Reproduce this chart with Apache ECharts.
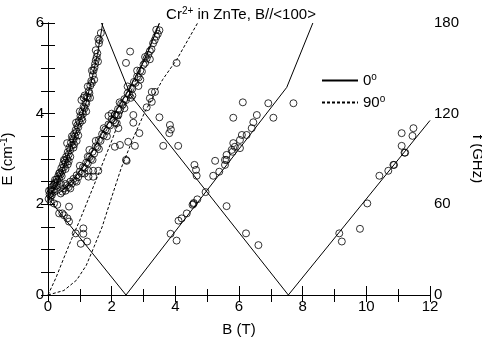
<!DOCTYPE html>
<html>
<head>
<meta charset="utf-8">
<script src="https://cdn.jsdelivr.net/npm/echarts@6/dist/echarts.min.js"></script>
<style>
  html, body { margin: 0; padding: 0; background: #fff; }
  #chart { width: 482px; height: 349px; }
</style>
</head>
<body>
<div id="chart"></div>
<script>
// measured points [B (T), E (cm-1)]
const band1Pts = [
  [0.02, 2.12], [0.05, 2.22], [0.03, 2.3], [0.08, 2.18], [0.1, 2.28], [0.12, 2.38], [0.15, 2.3],
  [0.18, 2.42], [0.2, 2.33], [0.22, 2.48], [0.25, 2.4], [0.27, 2.55], [0.3, 2.5], [0.32, 2.62],
  [0.35, 2.57], [0.37, 2.7], [0.4, 2.66], [0.42, 2.8], [0.45, 2.74], [0.47, 2.88], [0.5, 2.82],
  [0.52, 2.96], [0.55, 2.92], [0.57, 3.05], [0.6, 3.0], [0.62, 3.15], [0.65, 3.1], [0.67, 3.25],
  [0.7, 3.2], [0.72, 3.36], [0.75, 3.3], [0.77, 3.45], [0.8, 3.42], [0.82, 3.55], [0.85, 3.5],
  [0.87, 3.64], [0.9, 3.6], [0.92, 3.74], [0.95, 3.7], [0.97, 3.84], [1.0, 3.8], [1.02, 3.95],
  [1.05, 3.9], [1.08, 4.05], [1.1, 4.0], [1.12, 4.15], [1.15, 4.12], [1.18, 4.25], [1.2, 4.22],
  [1.22, 4.38], [1.25, 4.35], [1.28, 4.5], [1.3, 4.45], [1.33, 4.62], [1.36, 4.72], [1.38, 4.68],
  [1.41, 4.85], [1.43, 4.95], [1.46, 5.02], [1.48, 5.1], [1.5, 5.18], [1.53, 5.25], [1.55, 5.33],
  [1.6, 5.55], [1.62, 5.62], [1.66, 5.78], [0.6, 3.35], [0.9, 3.4], [1.05, 4.3], [0.4, 2.45],
  [0.65, 2.95], [1.15, 4.4], [0.8, 3.25],
  [0.12, 2.2], [0.2, 2.45], [0.28, 2.42], [0.35, 2.68], [0.43, 2.62], [0.5, 2.98], [0.55, 2.78],
  [0.62, 2.88], [0.7, 3.05], [0.75, 3.5], [0.82, 3.32], [0.88, 3.8], [0.95, 3.52], [1.0, 4.05],
  [1.08, 3.85], [1.12, 4.35], [1.2, 4.05], [1.25, 4.6], [1.32, 4.35], [1.38, 4.95], [1.45, 4.75],
  [1.5, 5.4], [1.57, 5.15], [1.58, 5.65]
];
const band2Pts = [
  [0.45, 2.28], [0.5, 2.35], [0.55, 2.3], [0.6, 2.42], [0.65, 2.38], [0.7, 2.5], [0.75, 2.46],
  [0.8, 2.56], [0.85, 2.52], [0.9, 2.64], [0.95, 2.6], [1.0, 2.72], [1.05, 2.68], [1.1, 2.82],
  [1.15, 2.8], [1.2, 2.92], [1.25, 2.9], [1.3, 3.04], [1.35, 3.0], [1.4, 3.16], [1.45, 3.12],
  [1.5, 3.28], [1.55, 3.26], [1.6, 3.42], [1.65, 3.4], [1.7, 3.55], [1.75, 3.52], [1.8, 3.65],
  [1.85, 3.62], [1.9, 3.76], [1.95, 3.74], [2.0, 3.88], [2.05, 3.85], [2.1, 3.98], [2.15, 3.96],
  [2.2, 4.1], [2.25, 4.08], [2.3, 4.22], [2.35, 4.2], [2.4, 4.32], [2.45, 4.3], [2.5, 4.45],
  [2.55, 4.42], [2.6, 4.56], [2.65, 4.55], [2.7, 4.7], [2.75, 4.68], [2.8, 4.82], [2.85, 4.8],
  [2.9, 4.95], [2.95, 4.93], [3.0, 5.08], [3.05, 5.12], [3.1, 5.22], [3.15, 5.3], [3.2, 5.38],
  [3.25, 5.42], [3.3, 5.55], [3.35, 5.62], [3.4, 5.7], [3.45, 5.76], [3.5, 5.84], [1.3, 3.2],
  [1.9, 3.95], [2.6, 4.35],
  [0.55, 2.45], [0.7, 2.35], [0.9, 2.5], [1.0, 2.85], [1.15, 2.68], [1.25, 3.05], [1.4, 2.98],
  [1.5, 3.4], [1.6, 3.22], [1.75, 3.68], [1.85, 3.5], [2.0, 4.0], [2.1, 3.8], [2.25, 4.25],
  [2.4, 4.12], [2.5, 4.6], [2.65, 4.4], [2.8, 4.95], [2.9, 4.75], [3.05, 5.25], [3.2, 5.2], [3.4, 5.85]
];
const otherPts = [
  [0.08, 2.06], [0.19, 2.02], [0.29, 1.99], [0.35, 1.8], [0.45, 1.8], [0.5, 1.76], [0.61, 1.69],
  [0.66, 1.62], [0.66, 1.95], [0.87, 1.36], [1.03, 1.13], [1.11, 1.47], [1.11, 1.35], [1.23, 1.18],
  [0.22, 2.54], [0.08, 2.32], [0.4, 2.24], [1.27, 2.74], [1.42, 2.74], [1.58, 2.74], [1.27, 2.61],
  [1.42, 2.61], [2.45, 2.98], [2.1, 3.97], [2.21, 3.97], [2.16, 3.79], [2.21, 3.68], [2.68, 3.97],
  [2.68, 3.8], [2.1, 3.27], [2.26, 3.31], [2.52, 3.38], [2.73, 3.29], [2.47, 2.96], [2.87, 3.57],
  [3.5, 3.92], [3.83, 3.75], [3.86, 3.65], [3.81, 3.57], [3.62, 3.29], [4.09, 3.29], [2.58, 5.37],
  [2.45, 5.12], [4.04, 5.12], [3.26, 4.48], [3.36, 4.48], [3.2, 4.34], [3.26, 4.26], [3.1, 4.14],
  [2.84, 4.61], [3.85, 1.35], [4.04, 1.2], [4.1, 1.64], [4.2, 1.69], [4.36, 1.8], [4.54, 1.99],
  [4.58, 2.03], [4.69, 2.11], [4.57, 2.01], [4.95, 2.27], [5.19, 2.63], [5.38, 2.72], [5.56, 2.87],
  [5.61, 2.98], [5.8, 3.16], [5.61, 1.96], [4.6, 2.87], [4.65, 2.76], [4.67, 2.63], [5.25, 2.96],
  [5.56, 2.98], [5.61, 3.09], [5.77, 3.2], [5.87, 3.27], [6.03, 3.24], [5.82, 3.35], [6.03, 3.42],
  [6.09, 3.53], [6.24, 3.53], [6.4, 3.68], [6.45, 3.81], [6.56, 3.97], [5.82, 3.91], [7.08, 3.91],
  [6.12, 4.25], [6.92, 4.23], [7.71, 4.23], [6.22, 1.36], [6.61, 1.1], [9.15, 1.36], [9.23, 1.18],
  [9.8, 1.46], [10.03, 2.02], [10.41, 2.63], [10.69, 2.74], [10.87, 2.87], [11.22, 3.14],
  [11.11, 3.57], [11.48, 3.68], [11.45, 3.51], [11.11, 3.29], [11.2, 3.14], [10.85, 2.87]
];

// calculated curves, 0 deg (solid)
const solidA = [[0, 2.12], [0.2, 2.35], [0.45, 2.75], [0.75, 3.33], [1.0, 3.83], [1.2, 4.25], [1.4, 4.83], [1.55, 5.3], [1.72, 6.0]];
const solidB = [[0, 2.12], [0.45, 2.3], [0.8, 2.55], [1.2, 2.92], [1.7, 3.57], [2.2, 4.13], [2.5, 4.48], [2.8, 4.88], [3.1, 5.28], [3.5, 6.0]];
const solidC = [[0, 2.14], [2.45, 0], [7.5, 4.58], [8.32, 6.0]];
const solidD = [[1.68, 6.0], [2.6, 4.4], [7.55, 0], [12, 3.85]];
// 90 deg (dashed)
const dashA = [[0, 0], [0.25, 0.38], [0.5, 0.82], [0.75, 1.25], [1.0, 1.65], [1.5, 2.52], [2.0, 3.4], [2.4, 4.15], [3.0, 5.15], [3.5, 6.0]];
const dashB = [[0, 0], [0.5, 0.1], [0.9, 0.33], [1.2, 0.65], [1.45, 1.07], [1.7, 1.5], [1.95, 2.05], [2.3, 2.8], [2.7, 3.5], [3.05, 4.05], [3.6, 4.75], [4.05, 5.2], [4.7, 6.0]];

const FONT = 'Liberation Sans';
const chart = echarts.init(document.getElementById('chart'));

const lineSeries = (name, data, dashed) => ({
  name: name,
  type: 'line',
  data: data,
  symbol: 'none',
  silent: true,
  z: 3,
  itemStyle: { color: '#000' },
  lineStyle: { color: '#000', width: 1, type: dashed ? [3, 2] : 'solid' }
});
const dotSeries = (data) => ({
  type: 'scatter',
  data: data,
  symbol: 'circle',
  symbolSize: 7,
  z: 4,
  itemStyle: { color: 'rgba(0,0,0,0)', borderColor: '#000', borderWidth: 1 }
});

const sup = { fontFamily: FONT, fontSize: 10, color: '#000', verticalAlign: 'top', padding: [0, 0, 7, 0] };

chart.setOption({
  animation: false,
  textStyle: { fontFamily: FONT, color: '#000' },
  title: {
    text: 'Cr{sup|2+} in ZnTe, B//<100>',
    left: 'center',
    top: 1,
    textStyle: {
      fontFamily: FONT, fontSize: 15, fontWeight: 'normal', color: '#000',
      rich: { sup: sup }
    }
  },
  legend: {
    data: ['0', '90'],
    orient: 'vertical',
    left: 316,
    top: 67,
    itemWidth: 36,
    itemHeight: 12,
    itemGap: 6,
    itemStyle: { color: 'rgba(0,0,0,0)', borderWidth: 0 },
    formatter: n => n + '{sup|o}',
    textStyle: { fontFamily: FONT, fontSize: 15, color: '#000', rich: { sup: sup } }
  },
  grid: { left: 48, right: 52, top: 23, bottom: 54, containLabel: false, outerBoundsMode: 'none' },
  xAxis: [
    {
      type: 'value', min: 0, max: 12, interval: 2,
      name: 'B (T)', nameLocation: 'middle', nameGap: 27,
      nameTextStyle: { fontFamily: FONT, fontSize: 15, color: '#000' },
      axisLine: { lineStyle: { color: '#000', width: 1 } },
      axisTick: { inside: true, length: 9, lineStyle: { color: '#000' } },
      minorTick: { show: true, splitNumber: 2, length: 6, lineStyle: { color: '#000' } },
      axisLabel: { fontFamily: FONT, fontSize: 15, color: '#000', margin: 4 },
      splitLine: { show: false }
    },
    {
      type: 'value', min: 0, max: 12, interval: 1, position: 'top',
      axisLine: { lineStyle: { color: '#000', width: 1 } },
      axisTick: { inside: true, length: 7, lineStyle: { color: '#000' } },
      axisLabel: { show: false },
      splitLine: { show: false }
    }
  ],
  yAxis: [
    {
      type: 'value', min: 0, max: 6, interval: 0.5,
      name: 'E (cm{sup|-1})', nameLocation: 'middle', nameGap: 32,
      nameTextStyle: { fontFamily: FONT, fontSize: 15, color: '#000', rich: { sup: sup } },
      axisLine: { lineStyle: { color: '#000', width: 1 } },
      axisTick: { inside: true, length: 7, lineStyle: { color: '#000' } },
      axisLabel: {
        fontFamily: FONT, fontSize: 15, color: '#000', margin: 4,
        formatter: v => (v % 2 === 0 ? String(v) : '')
      },
      splitLine: { show: false }
    },
    {
      type: 'value', min: 0, max: 180, interval: 15, position: 'right',
      name: 'f (GHz)', nameLocation: 'middle', nameGap: 36, nameRotate: -90,
      nameTextStyle: { fontFamily: FONT, fontSize: 15, color: '#000' },
      axisLine: { lineStyle: { color: '#000', width: 1 } },
      axisTick: { inside: true, length: 7, lineStyle: { color: '#000' } },
      axisLabel: {
        fontFamily: FONT, fontSize: 15, color: '#000', margin: 4,
        formatter: v => (v % 60 === 0 ? String(v) : '')
      },
      splitLine: { show: false }
    }
  ],
  series: [
    lineSeries('0', solidA, false),
    lineSeries('0', solidB, false),
    lineSeries('0', solidC, false),
    lineSeries('0', solidD, false),
    lineSeries('90', dashA, true),
    lineSeries('90', dashB, true),
    dotSeries(band1Pts),
    dotSeries(band2Pts),
    dotSeries(otherPts)
  ]
});
</script>
</body>
</html>
